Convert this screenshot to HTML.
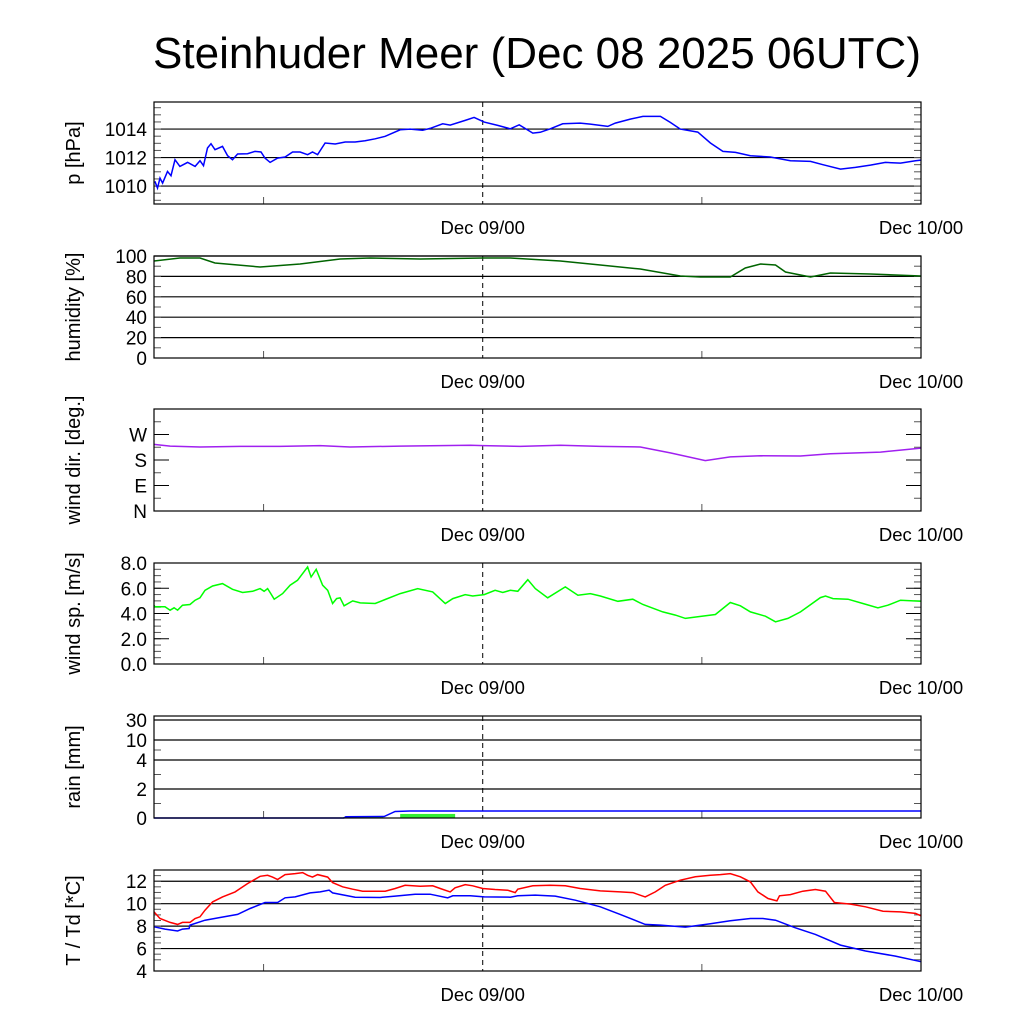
<!DOCTYPE html>
<html><head><meta charset="utf-8"><style>
html,body{margin:0;padding:0;background:#fff;}
svg{display:block;font-family:"Liberation Sans",sans-serif;}
</style></head><body>
<svg id="chart" width="1024" height="1024" viewBox="0 0 1024 1024">
<text x="537" y="68" font-size="44" text-anchor="middle">Steinhuder Meer (Dec 08 2025 06UTC)</text>
</svg>
<script>
// time axis: hours since Dec 08 06UTC
const pTimes=[0.05,0.19,0.33,0.47,0.74,0.93,1.15,1.42,1.84,2.25,2.52,2.71,2.93,3.12,3.34,3.75,4.03,4.30,4.58,5.12,5.53,5.86,6.08,6.36,6.77,7.18,7.59,8.0,8.41,8.68,8.96,9.37,9.92,10.47,11.01,11.56,12.11,12.66,13.48,14.03,14.71,15.12,15.81,16.22,17.04,17.53,18.08,18.82,19.51,20.0,20.74,21.15,21.7,22.38,23.34,23.89,24.85,25.26,26.08,26.77,27.73,28.27,28.82,29.78,30.47,31.15,31.84,32.66,33.75,34.85,35.95,36.63,37.59,38.41,39.23,40.05,40.88,41.7,42];
const pressure=[1010.33,1009.86,1010.56,1010.21,1011.03,1010.73,1011.85,1011.38,1011.66,1011.38,1011.78,1011.43,1012.67,1012.97,1012.55,1012.78,1012.13,1011.85,1012.25,1012.27,1012.43,1012.39,1011.96,1011.66,1011.96,1012.04,1012.39,1012.39,1012.2,1012.39,1012.2,1013.02,1012.95,1013.09,1013.09,1013.18,1013.32,1013.49,1013.95,1014.0,1013.91,1014.05,1014.37,1014.28,1014.61,1014.82,1014.49,1014.26,1014.02,1014.3,1013.72,1013.77,1014.02,1014.37,1014.42,1014.35,1014.19,1014.42,1014.7,1014.89,1014.89,1014.47,1014.0,1013.79,1013.02,1012.43,1012.36,1012.13,1012.04,1011.78,1011.73,1011.5,1011.19,1011.31,1011.47,1011.66,1011.61,1011.78,1011.82];
const hTimes=[0,1.42,2.52,3.34,5.81,8.0,10.19,11.84,14.58,18.03,19.51,22.25,24.44,26.63,28.82,29.92,31.56,32.38,33.21,34.03,34.58,35.95,37.04,39.23,42];
const humidity=[95.1,98,98,93.1,89.2,92.2,97.1,98,97.1,98,98,95.1,91.2,87.3,80.4,79.4,79.4,88.2,92.2,91.2,84.3,79.4,83.3,82.4,80.4];
const dTimes=[0,0.88,2.52,4.71,6.9,9.1,10.74,13.48,17.32,18.03,20.05,22.25,24.44,26.63,28.27,30.19,31.56,33.21,35.4,37.04,39.78,42];
const windDir=[235,229,226,228,228,231,226,229,232,231,228,232,228,226,205,178,191,195,194,202,208,222];
const sTimes=[0,0.05,0.33,0.6,0.88,1.1,1.29,1.56,1.97,2.25,2.52,2.79,3.21,3.75,4.3,4.85,5.4,5.81,6.03,6.22,6.36,6.58,7.04,7.45,7.86,8.41,8.6,8.88,9.23,9.51,9.78,10.0,10.19,10.41,10.88,11.29,12.11,12.66,13.48,14.44,15.26,15.95,16.36,17.04,17.45,18.08,18.68,19.1,19.51,19.92,20.47,20.88,21.56,22.52,23.21,23.89,24.44,25.4,26.22,26.77,27.86,28.55,29.1,29.78,30.74,31.56,32.11,32.66,33.48,34.03,34.71,35.4,36.49,36.77,37.18,38.0,38.82,39.64,40.19,40.88,42];
const windSpeed=[4.66,4.53,4.53,4.53,4.26,4.45,4.26,4.66,4.71,5.05,5.24,5.84,6.18,6.37,5.92,5.66,5.76,5.97,5.76,5.97,5.66,5.13,5.58,6.24,6.63,7.68,6.89,7.5,6.24,5.84,4.79,5.18,5.24,4.61,5.0,4.84,4.79,5.11,5.58,5.97,5.71,4.79,5.18,5.5,5.39,5.5,5.84,5.66,5.84,5.76,6.68,5.97,5.24,6.11,5.45,5.58,5.39,4.97,5.13,4.71,4.13,3.87,3.61,3.74,3.92,4.87,4.61,4.13,3.79,3.34,3.61,4.13,5.26,5.39,5.18,5.13,4.79,4.45,4.66,5.05,4.97];
const rainTimes=[0,10.4,10.5,12.6,13.2,14.0,42];
const rainSum=[0,0,0.08,0.1,0.45,0.48,0.48];
const barStart=[10.36,13.48];
const barEnd=[12.55,16.49];
const barValue=[0.07,0.28];
const tTimes=[0,0.33,0.88,1.29,1.56,1.97,2.25,2.52,2.79,3.21,3.75,4.44,5.12,5.81,6.22,6.49,6.77,7.18,7.73,8.14,8.41,8.68,8.96,9.51,9.78,10.33,10.88,11.42,12.11,12.66,13.21,13.75,14.58,15.26,15.67,16.22,16.49,17.04,17.45,18.0,18.68,19.37,19.78,19.92,20.74,21.7,22.52,23.34,24.44,25.53,26.22,26.9,27.45,28.0,28.82,29.64,30.47,31.01,31.56,32.11,32.66,33.07,33.62,34.11,34.25,34.85,35.53,36.22,36.77,37.26,38.14,38.96,39.92,40.88,41.7,42];
const temp=[9.27,8.68,8.33,8.15,8.33,8.33,8.68,8.83,9.42,10.16,10.6,11.05,11.79,12.44,12.53,12.37,12.15,12.59,12.68,12.77,12.53,12.37,12.59,12.37,11.88,11.5,11.29,11.11,11.11,11.11,11.35,11.64,11.55,11.59,11.35,11.05,11.41,11.7,11.59,11.35,11.26,11.2,10.99,11.29,11.59,11.64,11.59,11.35,11.14,11.05,10.99,10.6,11.05,11.64,12.09,12.39,12.53,12.59,12.68,12.39,11.94,11.05,10.46,10.25,10.7,10.81,11.11,11.26,11.11,10.1,9.96,9.72,9.33,9.27,9.13,8.92];
const tdTimes=[0,0.6,1.29,1.56,1.92,1.97,2.79,3.62,4.58,5.26,6.08,6.77,7.18,7.73,8.55,9.1,9.59,9.78,11.01,12.38,13.21,14.3,15.12,16.08,16.36,17.32,18.08,19.51,19.92,20.88,21.97,23.07,24.44,25.53,26.9,27.73,29.1,30.47,31.56,32.66,33.34,34.03,35.12,36.22,37.59,38.96,40.6,42];
const dewpoint=[7.94,7.73,7.56,7.73,7.79,8.09,8.53,8.77,9.04,9.57,10.1,10.1,10.52,10.6,10.96,11.05,11.2,10.96,10.58,10.55,10.67,10.84,10.84,10.52,10.7,10.7,10.6,10.58,10.7,10.76,10.67,10.31,9.72,9.04,8.15,8.09,7.91,8.21,8.47,8.68,8.68,8.53,7.85,7.26,6.31,5.78,5.33,4.83];
const xTickLabels=["Dec 09/00","Dec 10/00"];
const xTickHours=[18,42];

const svg=document.getElementById('chart');
const NS='http://www.w3.org/2000/svg';
const X0=154,X1=921,HMAX=42;
function xs(h){return X0+(X1-X0)*h/HMAX;}
function mk(tag,attrs,parent){const e=document.createElementNS(NS,tag);for(const k in attrs)e.setAttribute(k,attrs[k]);(parent||svg).appendChild(e);return e;}

function panel(cfg){
  const g=mk('g',{});
  
  
  const ys=cfg.ys;
  cfg.grid.forEach(v=>{const y=ys(v);const l=mk('line',{x1:X0,x2:X1,y1:y,y2:y,stroke:'#000','stroke-width':1.2},g);
    
    });
  cfg.minor.forEach(v=>{const y=ys(v);
    mk('line',{x1:X0,x2:X0+7,y1:y,y2:y,stroke:'#555','stroke-width':1},g);
    mk('line',{x1:X1-7,x2:X1,y1:y,y2:y,stroke:'#555','stroke-width':1},g);});
  (cfg.major||[]).forEach(v=>{const y=ys(v);
    mk('line',{x1:X0,x2:X0+15,y1:y,y2:y,stroke:'#000','stroke-width':1},g);
    mk('line',{x1:X1-15,x2:X1,y1:y,y2:y,stroke:'#000','stroke-width':1},g);});
  cfg.labels.forEach((t,i)=>{const tx=mk('text',{x:X0-7,y:ys(cfg.labelVals[i])+7,'font-size':19,'text-anchor':'end'},g);tx.textContent=t;
    
    });
  [6,30].forEach(h=>{mk('line',{x1:xs(h),x2:xs(h),y1:cfg.bot,y2:cfg.bot-7,stroke:'#555','stroke-width':1},g);});
  const dl=mk('line',{x1:xs(18),x2:xs(18),y1:cfg.top,y2:cfg.bot,stroke:'#000','stroke-width':1,'stroke-dasharray':'5,4'},g);
  
  
  xTickHours.forEach((h,i)=>{const tx=mk('text',{x:xs(h),y:cfg.bot+30,'font-size':18.5,'text-anchor':'middle'},g);tx.textContent=xTickLabels[i];
    
    });
  const cy=(cfg.top+cfg.bot)/2;
  const at=mk('text',{x:0,y:0,'font-size':20,'text-anchor':'middle',transform:`translate(${cfg.titleX||80},${cy}) rotate(-90)`},g);
  at.textContent=cfg.title;
  
  
  (cfg.bars||[]).forEach(f=>f(g));
  cfg.series.forEach(s=>{
    let d='';s.t.forEach((h,i)=>{if(i<s.v.length)d+=(i?'L':'M')+xs(h).toFixed(1)+','+ys(s.v[i]).toFixed(1);});
    const p=mk('path',{d:d,fill:'none',stroke:s.color,'stroke-width':1.5},g);
    
    
  });
  const fr=mk('rect',{x:X0,y:cfg.top,width:X1-X0,height:cfg.bot-cfg.top,fill:'none',stroke:'#000','stroke-width':1.2},g);
  
  
}
function lin(top,bot,vmin,vmax){return v=>bot-(v-vmin)/(vmax-vmin)*(bot-top);}
function range(a,b,s){const r=[];for(let v=a;v<=b+1e-9;v+=s)r.push(v);return r;}

panel({name:'pressure',top:102,bot:204,ys:lin(102,204,1008.74,1015.9),grid:[1010,1012,1014],minor:range(1009,1015.8,0.5),
  labels:['1010','1012','1014'],labelVals:[1010,1012,1014],title:'p [hPa]',
  series:[{t:pTimes,v:pressure,color:'#0000ff',name:'pressure-line'}]});
panel({name:'humidity',top:256,bot:358,ys:lin(256,358,0,100),grid:[20,40,60,80,100],minor:range(10,90,10),
  labels:['0','20','40','60','80','100'],labelVals:[0,20,40,60,80,100],title:'humidity [%]',
  series:[{t:hTimes,v:humidity,color:'#006400',name:'humidity-line'}]});
panel({name:'wind-direction',top:409,bot:511,ys:lin(409,511,0,360),grid:[],minor:range(45,315,90),major:[90,180,270],
  labels:['N','E','S','W'],labelVals:[0,90,180,270],title:'wind dir. [deg.]',
  series:[{t:dTimes,v:windDir,color:'#a020f0',name:'wind-direction-line'}]});
panel({name:'wind-speed',top:563,bot:664,ys:lin(563,664,0,8),grid:[],minor:range(0.5,7.5,0.5),major:[2,4,6],
  labels:['0.0','2.0','4.0','6.0','8.0'],labelVals:[0,2,4,6,8],title:'wind sp. [m/s]',
  series:[{t:sTimes,v:windSpeed,color:'#00ff00',name:'wind-speed-line'}]});
const rk=[0,4,10,30],ry=[818,760,740,720];
function rainY(v){for(let i=1;i<rk.length;i++){if(v<=rk[i])return ry[i-1]+(v-rk[i-1])/(rk[i]-rk[i-1])*(ry[i]-ry[i-1]);}return 716;}
panel({name:'rain',top:716,bot:818,ys:rainY,grid:[2,4,10,30],minor:[1,3,7],
  labels:['0','2','4','10','30'],labelVals:[0,2,4,10,30],title:'rain [mm]',
  bars:[g=>{barStart.forEach((s,i)=>{const y=rainY(barValue[i]);const r=mk('rect',{x:xs(s),y:y,width:xs(barEnd[i])-xs(s),height:818-y,fill:'#33ee33'},g);
    
    });}],
  series:[{t:rainTimes,v:rainSum,color:'#0000ff',name:'rain-sum-line'}]});
panel({name:'temperature',top:870,bot:971,ys:lin(870,971,4,13),grid:[6,8,10,12],minor:range(5,12.5,0.5),
  labels:['4','6','8','10','12'],labelVals:[4,6,8,10,12],title:'T / Td [*C]',
  series:[{t:tTimes,v:temp,color:'#ff0000',name:'temperature-line'},{t:tdTimes,v:dewpoint,color:'#0000ff',name:'dewpoint-line'}]});
</script>
</body></html>
